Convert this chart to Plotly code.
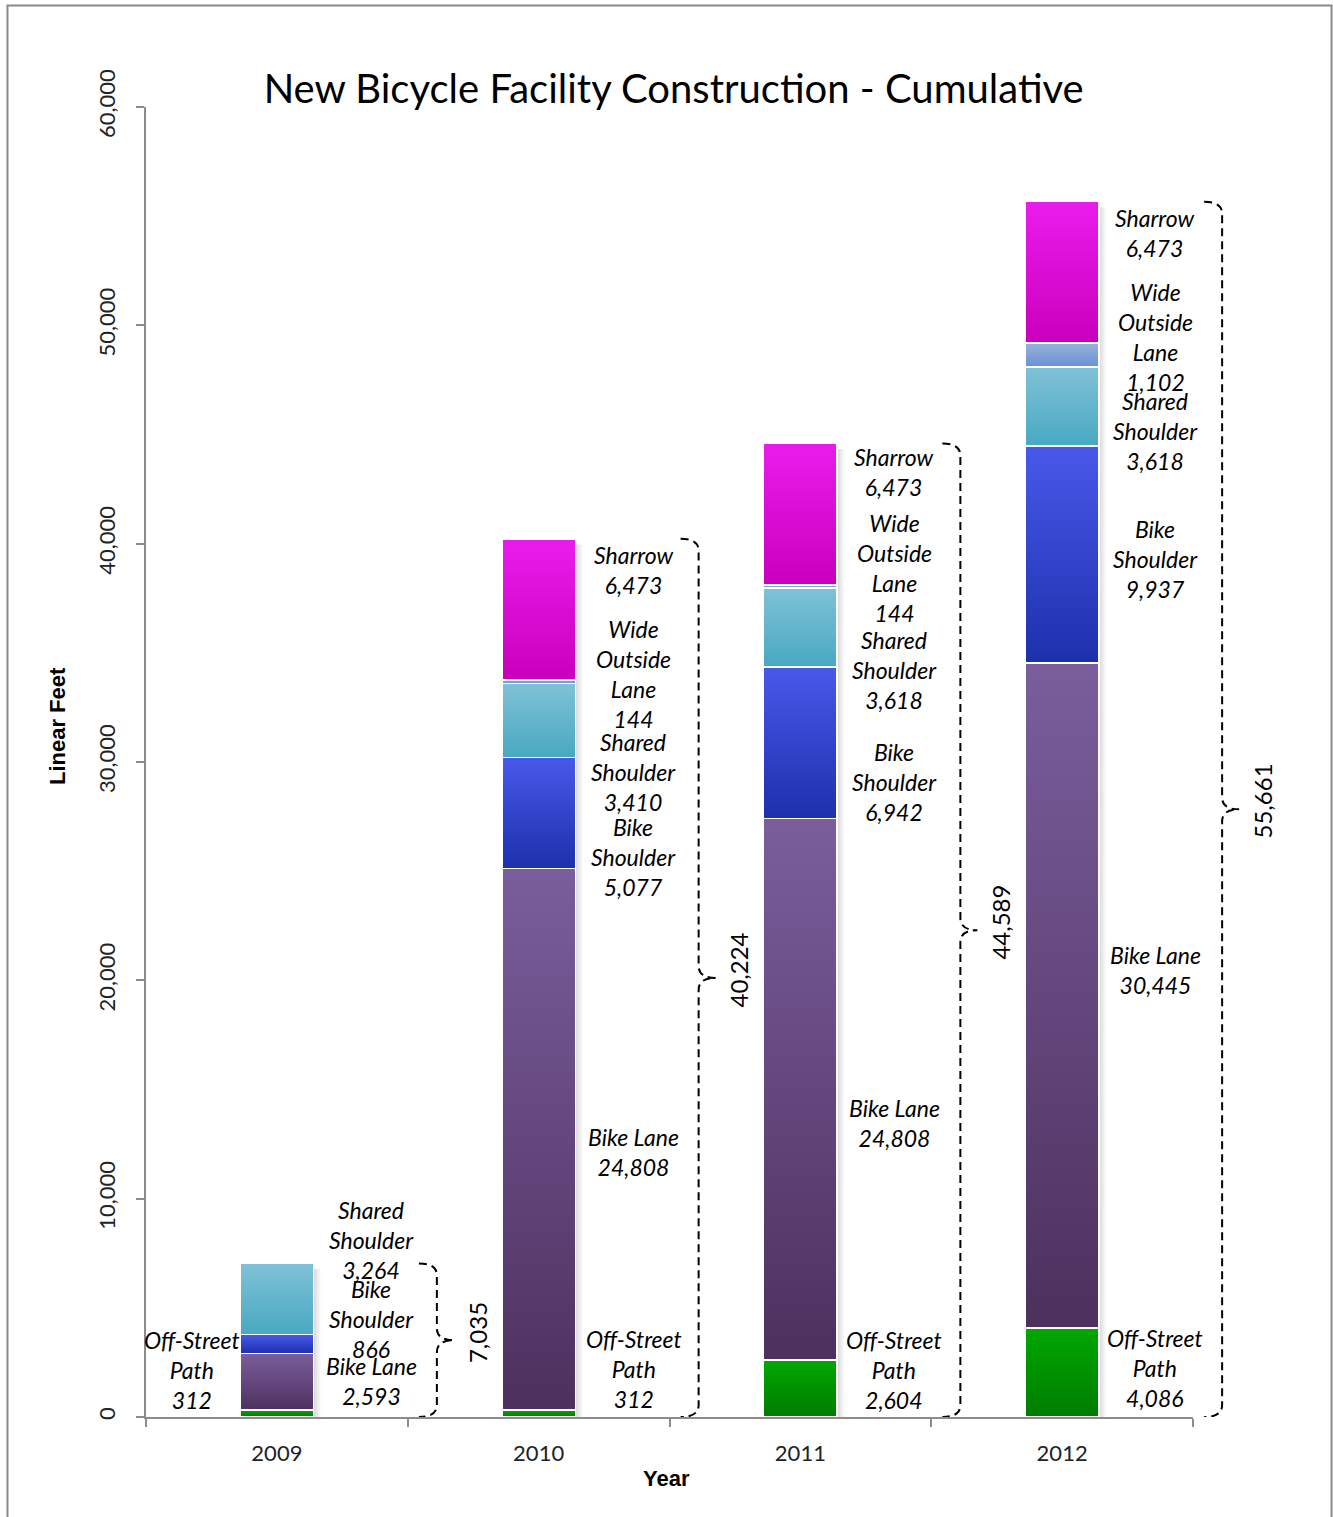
import base64
import plotly.graph_objects as go

# ---- data -------------------------------------------------------------
years = ["2009", "2010", "2011", "2012"]
facility_types = ["Off-Street Path", "Bike Lane", "Bike Shoulder",
                  "Shared Shoulder", "Wide Outside Lane", "Sharrow"]

off_street_path = [312, 312, 2604, 4086]
bike_lane = [2593, 24808, 24808, 30445]
bike_shoulder = [866, 5077, 6942, 9937]
shared_shoulder = [3264, 3410, 3618, 3618]
wide_outside_lane = [None, 144, 144, 1102]
sharrow = [None, 6473, 6473, 6473]

series = [off_street_path, bike_lane, bike_shoulder,
          shared_shoulder, wide_outside_lane, sharrow]

# ---- styling ------------------------------------------------------------
# gradient (top colour, bottom colour) for each facility type
gradients = [
    ("#00a800", "#007c00"),
    ("#7a5e9c", "#4e305e"),
    ("#4859ea", "#1d30ac"),
    ("#80c2d6", "#48a8c2"),
    ("#9ab2d8", "#6690d6"),
    ("#ea1cec", "#c800bc"),
]
label_names = ["Off-Street<br>Path", "Bike Lane", "Bike<br>Shoulder",
               "Shared<br>Shoulder", "Wide<br>Outside<br>Lane", "Sharrow"]

# vertical centre of each label block (axis units), per year
label_y = {
    "2009": [2153, 1649, 4489, 8107, None, None],
    "2010": [2198, 12137, 25648, 29541, 34029, 38793],
    "2011": [2153, 13465, 29083, 34213, 38884, 43281],
    "2012": [2244, 20473, 39296, 45159, 49464, 54227],
}
label_xshift = {"2009": 95, "2010": 95, "2011": 94, "2012": 93}
left_label_xshift = -85      # 2009 off-street label sits left of its bar

BAR_W = 0.28
LABEL_FONT = dict(family="Lato", size=23, color="#000", style="italic")
AXIS_GRAY = "#8c8c8c"


def svg_uri(svg):
    return "data:image/svg+xml;base64," + base64.b64encode(svg.encode()).decode()


def vertical_gradient(top, bottom):
    return svg_uri(
        "<svg xmlns='http://www.w3.org/2000/svg' width='10' height='100' "
        "viewBox='0 0 10 100' preserveAspectRatio='none'>"
        "<defs><linearGradient id='g' x1='0' y1='0' x2='0' y2='1'>"
        f"<stop offset='0' stop-color='{top}'/>"
        f"<stop offset='1' stop-color='{bottom}'/>"
        "</linearGradient></defs>"
        "<rect width='10' height='100' fill='url(#g)'/></svg>")


SHADOW = svg_uri(
    "<svg xmlns='http://www.w3.org/2000/svg' width='10' height='100' "
    "viewBox='0 0 10 100' preserveAspectRatio='none'>"
    "<defs><linearGradient id='s' x1='0' y1='0' x2='1' y2='0'>"
    "<stop offset='0' stop-color='#000' stop-opacity='0.16'/>"
    "<stop offset='1' stop-color='#000' stop-opacity='0'/>"
    "</linearGradient></defs>"
    "<rect width='10' height='100' fill='url(#s)'/></svg>")


def brace_path(total, x_line=160, x_end=142, x_tip=177, ry=550):
    mid = total / 2
    return (f"M {x_end},{total} Q {x_line},{total} {x_line},{total - ry} "
            f"L {x_line},{mid + ry} Q {x_line},{mid} {x_tip},{mid} "
            f"Q {x_line},{mid} {x_line},{mid - ry} "
            f"L {x_line},{ry} Q {x_line},0 {x_end},0")


fig = go.Figure()

# stacked bars: outlines drawn by the traces, fills by the gradient images below
for name, values in zip(facility_types, series):
    fig.add_trace(go.Bar(
        name=name, x=years, y=values, width=BAR_W,
        marker=dict(color="rgba(0,0,0,0)", line=dict(color="white", width=1.5)),
        hovertemplate=name + " %{x}: %{y:,}<extra></extra>",
    ))

n_cat = len(years)
images = []
annotations = []
shapes = []
for i, yr in enumerate(years):
    base = 0
    for k, values in enumerate(series):
        v = values[i]
        if v is None:
            continue
        images.append(dict(
            source=vertical_gradient(*gradients[k]), xref="x", yref="y",
            x=i - BAR_W / 2, y=base + v, sizex=BAR_W, sizey=v,
            xanchor="left", yanchor="top", sizing="stretch", layer="below"))
        ly = label_y[yr][k]
        left = (yr == "2009" and k == 0)
        annotations.append(dict(
            x=i, y=ly, xref="x", yref="y", showarrow=False,
            text=f"{label_names[k]}<br>{v:,}", font=LABEL_FONT,
            xshift=left_label_xshift if left else label_xshift[yr],
            xanchor="center", yanchor="middle", align="center"))
        base += v
    total = base
    # soft shadow right of the bar
    images.append(dict(
        source=SHADOW, xref="x", yref="y",
        x=i + BAR_W / 2, y=total - 250, sizex=0.03, sizey=total - 250,
        xanchor="left", yanchor="top", sizing="stretch", layer="below"))
    # curly brace spanning the whole stack (paper-anchored so the last one
    # is not clipped at the right edge of the plot area)
    shapes.append(dict(
        type="path", xref="paper", yref="y", xsizemode="pixel",
        xanchor=(i + 0.5) / n_cat,
        path=brace_path(total), line=dict(color="black", width=2, dash="8px,5px")))
    annotations.append(dict(
        x=i, y=total / 2, xref="x", yref="y", showarrow=False,
        text=f"{total:,}", textangle=-90, xshift=200, yshift=8,
        xanchor="center", yanchor="middle",
        font=dict(family="Lato", size=24, color="#000")))

# axis titles
annotations.append(dict(
    x=-0.084, y=0.5275, xref="paper", yref="paper", showarrow=False,
    text="<b>Linear Feet</b>", textangle=-90, xanchor="center", yanchor="middle",
    font=dict(family="Liberation Sans", size=22, color="#000")))
annotations.append(dict(
    x=0.4976, y=-0.0466, xref="paper", yref="paper", showarrow=False,
    text="<b>Year</b>", xanchor="center", yanchor="middle",
    font=dict(family="Liberation Sans", size=22, color="#000")))

# outer frame
shapes.append(dict(
    type="rect", xref="paper", yref="paper",
    x0=-0.1323, x1=1.1323, y0=-0.2, y1=1.0775,
    line=dict(color="#8a8a8a", width=2), layer="below"))

fig.update_layout(
    width=1333, height=1517,
    margin=dict(l=146, r=140, t=107, b=100),
    paper_bgcolor="white", plot_bgcolor="rgba(0,0,0,0)",
    barmode="stack", showlegend=False,
    title=dict(text="New Bicycle Facility Construction - Cumulative",
               x=0.504, xref="paper", y=1 - 89 / 1517, yref="container",
               xanchor="center", yanchor="middle",
               font=dict(family="Lato", size=40, color="#000")),
    xaxis=dict(type="category", categoryorder="array", categoryarray=years,
               range=[-0.5, 3.5], showline=True, linecolor=AXIS_GRAY, linewidth=2,
               ticks="outside", tickson="boundaries", ticklen=8, tickwidth=2,
               tickcolor=AXIS_GRAY, ticklabelstandoff=16,
               tickfont=dict(family="Lato", size=22, color="#222"),
               showgrid=False, zeroline=False),
    yaxis=dict(range=[0, 60000], dtick=10000, tickformat=",", tickangle=-90,
               showline=True, linecolor=AXIS_GRAY, linewidth=2,
               ticks="outside", ticklen=8, tickwidth=2, tickcolor=AXIS_GRAY,
               ticklabelstandoff=12,
               tickfont=dict(family="Lato", size=22, color="#222"),
               showgrid=False, zeroline=False),
    images=images, annotations=annotations, shapes=shapes,
)

fig.write_html("out.html")
